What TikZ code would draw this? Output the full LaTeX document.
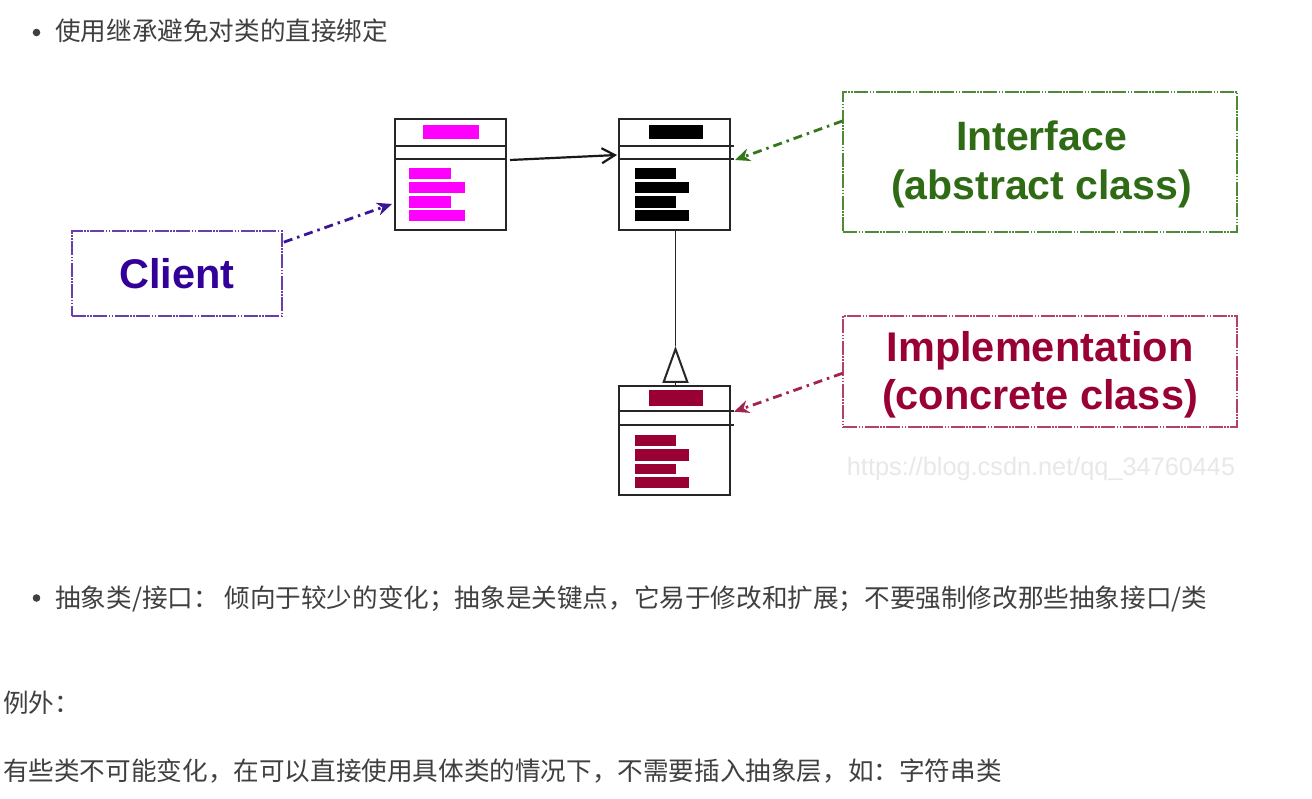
\documentclass[tikz,border=0pt]{standalone}
\usepackage{fontspec}
\setmainfont{Liberation Sans}
\newfontfamily\cjk{Noto Sans CJK SC}
\usetikzlibrary{arrows.meta,calc}
\definecolor{textGray}{HTML}{404040}
\definecolor{mag}{HTML}{FF00FF}
\definecolor{crim}{HTML}{990033}
\definecolor{clientText}{HTML}{330099}
\definecolor{clientBorder}{HTML}{6B3FA8}
\definecolor{clientArrow}{HTML}{3A1696}
\definecolor{ifaceText}{HTML}{2E6B14}
\definecolor{ifaceBorder}{HTML}{4E8A38}
\definecolor{ifaceArrow}{HTML}{33771A}
\definecolor{implText}{HTML}{990033}
\definecolor{implBorder}{HTML}{B5406E}
\definecolor{implArrow}{HTML}{A0244C}
\definecolor{wmGray}{HTML}{E8E8E8}
\begin{document}
\begin{tikzpicture}[x=1pt,y=-1pt,
  cls/.style={rectangle, draw=black!85, line width=2pt, minimum width=111pt, inner sep=0pt},
  divider/.style={line width=2pt, black!85},
  lbox/.style={rectangle, line width=1.7pt, inner sep=0pt,
    dash pattern=on 14pt off 1.5pt on 1.5pt off 1.5pt on 1.5pt off 1.5pt},
  ddarrow/.style={line width=2.8pt, dash pattern=on 9pt off 5pt on 2.5pt off 5pt,
    -{Stealth[length=15pt,width=13pt]}},
  txt/.style={anchor=base west, inner sep=0pt, font=\cjk\fontsize{25.6}{30}\selectfont, text=textGray},
  bigbold/.style={font=\bfseries\fontsize{41.5}{48.3}\selectfont, align=center, inner sep=0pt}
]
\fill[white] (0,0) rectangle (1312,799);
\useasboundingbox (0,0) rectangle (1312,799);

% top bullet
\fill[textGray] (36.5,32.5) circle (3.8pt);
\node[txt] (t1) at (55,40.5) {使用继承避免对类的直接绑定};

% class boxes
\node[cls, minimum height=111pt] (A) at (450.5,174.5) {};
\node[cls, minimum height=111pt] (B) at (674.5,174.5) {};
\node[cls, minimum height=109pt] (C) at (674.5,440.5) {};

\draw[divider] ($(A.north west)+(0,27.7)$) -- ($(A.north east)+(0,27.7)$);
\draw[divider] ($(A.north west)+(0,41)$) -- ($(A.north east)+(0,41)$);
\draw[divider] ($(B.north west)+(0,27.7)$) -- ($(B.north east)+(3,27.7)$);
\draw[divider] ($(B.north west)+(0,41)$) -- ($(B.north east)+(3,41)$);
\draw[divider] ($(C.north west)+(0,25.7)$) -- ($(C.north east)+(3,25.7)$);
\draw[divider] ($(C.north west)+(0,40.3)$) -- ($(C.north east)+(3,40.3)$);

% class A bars (magenta)
\fill[mag] (423,125) rectangle (479,139);
\fill[mag] (409,168) rectangle (451,179);
\fill[mag] (409,182.5) rectangle (465,193.5);
\fill[mag] (409,196.5) rectangle (451,208);
\fill[mag] (409,210.5) rectangle (465,221);
% class B bars (black)
\fill[black] (649,125) rectangle (703,139);
\fill[black] (635,168) rectangle (676,179);
\fill[black] (635,182.5) rectangle (689,193.5);
\fill[black] (635,196.5) rectangle (676,208);
\fill[black] (635,210.5) rectangle (689,221);
% class C bars (crimson)
\fill[crim] (649,390) rectangle (703,406);
\fill[crim] (635,435) rectangle (676,446);
\fill[crim] (635,449.3) rectangle (689,460.7);
\fill[crim] (635,463.5) rectangle (676,474);
\fill[crim] (635,476.7) rectangle (689,487.7);

% association A -> B
\draw[line width=2.2pt, black!90, -{Straight Barb[length=13pt,width=15pt,line width=2.2pt]}]
  ($(A.east)+(3,-14.5)$) -- ($(B.west)+(-1,-19.5)$);

% inheritance C -> B
\coordinate (tip) at ($(B.south)+(1,115)$);
\draw[line width=1.8pt, black!85] (tip |- B.south) -- (tip);
\draw[line width=1.8pt, black!85, -{Triangle[open,length=37pt,width=26pt,line width=2pt]}]
  (tip |- C.north) -- (tip);

% label boxes
\node[lbox, draw=clientBorder, minimum width=210.3pt, minimum height=85pt,
  font=\bfseries\fontsize{41.5}{48}\selectfont, text=clientText] (Client) at (176.85,273.5) {Client};

\node[lbox, draw=ifaceBorder, minimum width=394pt, minimum height=140pt] (Iface) at (1040.3,161.7) {};
\node[bigbold, text=ifaceText, font=\bfseries\fontsize{41}{49}\selectfont] (IfaceText) at (1041.5,164.4) {Interface\\(abstract class)};

\node[lbox, draw=implBorder, minimum width=394pt, minimum height=111.6pt] (Impl) at (1040.3,371.5) {};
\node[bigbold, text=implText] (ImplText) at (1040,375) {Implementation\\(concrete class)};

% dash-dot pointers
\draw[ddarrow, color=clientArrow] ($(Client.north east)+(1,12)$) -- ($(A.west)+(-2,29.5)$);
\draw[ddarrow, color=ifaceArrow] ($(Iface.west)+(0,-40.7)$) -- ($(B.east)+(4,-14.5)$);
\draw[ddarrow, color=implArrow] ($(Impl.west)+(0,1.8)$) -- ($(C.east)+(3,-28.8)$);

% watermark
\node[anchor=base west, inner sep=0pt, font=\fontsize{25.3}{30}\selectfont, text=wmGray] (wm)
  at (846.7,475.7) {https://blog.csdn.net/qq\_34760445};

% lower text
\fill[textGray] (36.5,598) circle (3.8pt);
\node[txt] (t2) at (55,607) {抽象类/接口： 倾向于较少的变化；抽象是关键点，它易于修改和扩展；不要强制修改那些抽象接口/类};
\node[txt] (t3) at (3,712) {例外：};
\node[txt] (t4) at (3,780) {有些类不可能变化，在可以直接使用具体类的情况下，不需要插入抽象层，如：字符串类};
\end{tikzpicture}
\end{document}
